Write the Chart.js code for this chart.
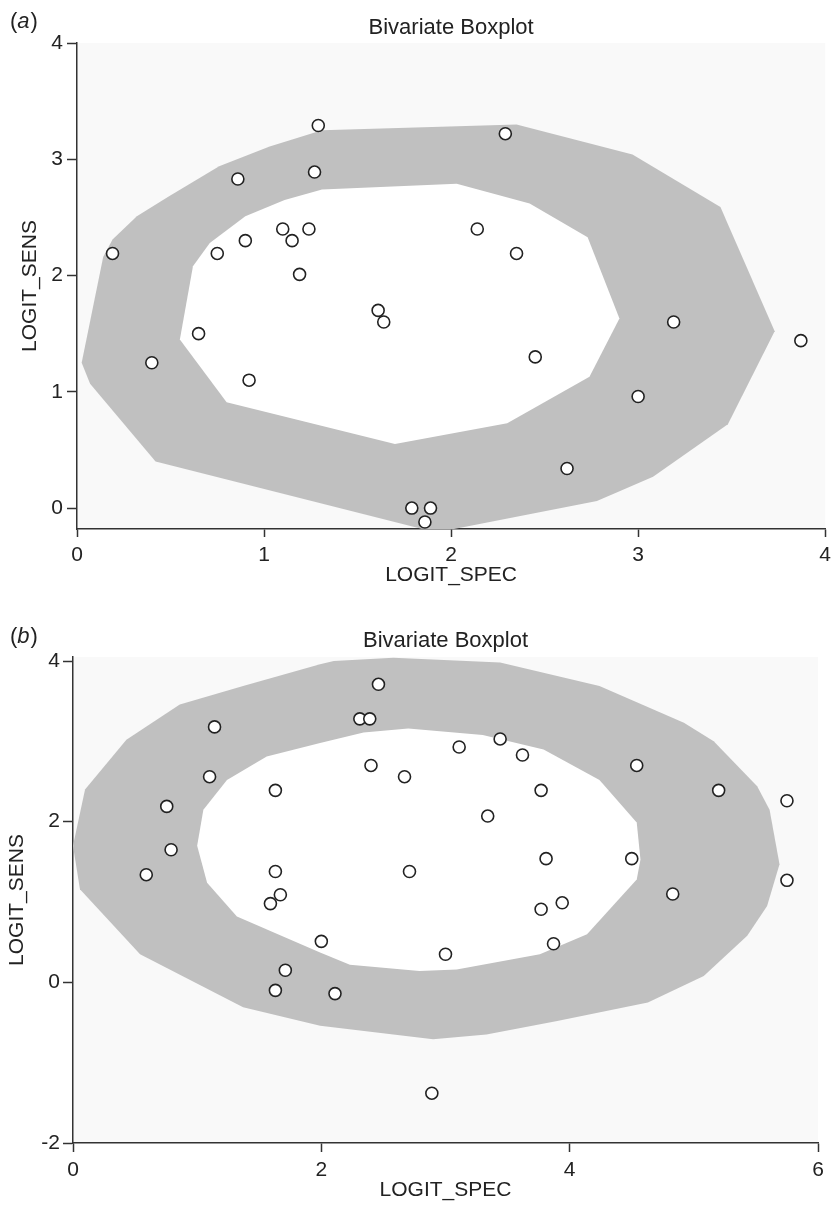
<!DOCTYPE html>
<html>
<head>
<meta charset="utf-8">
<title>Bivariate Boxplot</title>
<script src="https://cdn.jsdelivr.net/npm/chart.js@4"></script>
<style>
  html, body { margin: 0; padding: 0; background: #fff; }
  canvas { display: block; }
</style>
</head>
<body>
<canvas id="panelA" width="837" height="600"></canvas>
<canvas id="panelB" width="837" height="605"></canvas>
<script>
// Bivariate boxplots of LOGIT_SENS vs LOGIT_SPEC, two panels (a) and (b)

// ============================================================
// Panel (a) data
// ============================================================
const specA = [1.29, 0.86, 1.27, 0.19, 0.75, 0.90, 1.10, 1.15, 1.24, 1.19, 1.61, 1.64, 0.65,
  0.40, 0.92, 1.79, 2.29, 2.14, 2.35, 3.19, 3.87, 2.45, 3.00, 2.62, 1.89, 1.86];
const sensA = [3.29, 2.83, 2.89, 2.19, 2.19, 2.30, 2.40, 2.30, 2.40, 2.01, 1.70, 1.60, 1.50,
  1.25, 1.10, 0.00, 3.22, 2.40, 2.19, 1.60, 1.44, 1.30, 0.96, 0.34, 0.00, -0.12];

// outer fence (grey band) and inner hinge (white) polygons
const fenceSpecA = [0.025, 0.07, 0.42, 1.92, 2.78, 3.08, 3.48, 3.73, 3.44, 2.97, 2.35, 1.31, 1.03, 0.76,
  0.49, 0.32, 0.19, 0.14];
const fenceSensA = [1.25, 1.07, 0.40, -0.21, 0.06, 0.27, 0.72, 1.52, 2.59, 3.04, 3.30, 3.25, 3.11, 2.94,
  2.68, 2.51, 2.31, 2.16];
const hingeSpecA = [1.31, 1.11, 0.90, 0.71, 0.62, 0.55, 0.80, 1.70, 2.30, 2.74, 2.90, 2.73, 2.42, 2.03];
const hingeSensA = [2.74, 2.65, 2.51, 2.28, 2.08, 1.45, 0.91, 0.55, 0.73, 1.13, 1.63, 2.33, 2.62, 2.79];

const xTicksA = [0, 1, 2, 3, 4];
const yTicksA = [0, 1, 2, 3, 4];

// ============================================================
// Panel (b) data
// ============================================================
const specB = [2.46, 2.31, 2.39, 1.14, 1.10, 2.40, 2.67, 1.63, 0.755, 0.79, 0.59, 1.63, 2.71,
  1.67, 1.59, 2.00, 1.71, 1.63, 2.11, 3.11, 3.44, 3.62, 3.77, 3.34, 4.54, 5.20, 5.75, 3.81,
  4.50, 5.75, 4.83, 3.77, 3.94, 3.87, 3.00, 2.89];
const sensB = [3.71, 3.28, 3.28, 3.18, 2.56, 2.70, 2.56, 2.39, 2.19, 1.65, 1.34, 1.38, 1.38,
  1.09, 0.98, 0.51, 0.15, -0.10, -0.14, 2.93, 3.03, 2.83, 2.39, 2.07, 2.70, 2.39, 2.26, 1.54,
  1.54, 1.27, 1.10, 0.91, 0.99, 0.48, 0.35, -1.38];

const fenceSpecB = [0.00, 0.097, 0.43, 0.86, 1.37, 1.99, 2.10, 2.58, 3.44, 4.24, 4.92, 5.16, 5.51, 5.61,
  5.69, 5.59, 5.43, 5.08, 4.63, 3.90, 3.33, 2.90, 1.99, 1.37, 0.54, 0.30, 0.056];
const fenceSensB = [1.70, 2.40, 3.02, 3.46, 3.69, 3.96, 4.00, 4.04, 3.98, 3.69, 3.23, 3.00, 2.44, 2.15,
  1.47, 0.95, 0.58, 0.08, -0.25, -0.48, -0.65, -0.71, -0.54, -0.31, 0.35, 0.75, 1.16];
const hingeSpecB = [1.99, 2.34, 2.70, 3.30, 3.79, 4.24, 4.54, 4.57, 4.54, 4.14, 3.76, 3.09, 2.79, 2.23,
  1.99, 1.32, 1.08, 1.00, 1.05, 1.24, 1.56];
const hingeSensB = [2.98, 3.11, 3.16, 3.08, 2.90, 2.52, 1.99, 1.53, 1.28, 0.60, 0.35, 0.16, 0.14, 0.22,
  0.37, 0.82, 1.24, 1.70, 2.15, 2.52, 2.81];

const xTicksB = [0, 2, 4, 6];
const yTicksB = [-2, 0, 2, 4];

// ============================================================
// Shared styling
// ============================================================
const FONT_FAMILY = '"Liberation Sans", Arial, Helvetica, sans-serif';
const INK = '#222';
const AXIS = '#333';
const BAND = '#c0c0c0';

// light grey plot background behind the hull
const plotBackground = {
  id: 'plotBackground',
  beforeDraw(chart) {
    const { ctx, chartArea: a } = chart;
    ctx.save();
    ctx.fillStyle = '#f9f9f9';
    ctx.fillRect(a.left, a.top, a.right - a.left, a.bottom - a.top);
    ctx.restore();
  }
};

// "(a)" / "(b)" tag with italic letter
const panelTag = {
  id: 'panelTag',
  afterDraw(chart, args, opts) {
    const { ctx } = chart;
    ctx.save();
    ctx.fillStyle = INK;
    ctx.textBaseline = 'middle';
    let x = opts.x;
    ctx.font = `22px ${FONT_FAMILY}`;
    ctx.fillText('(', x, opts.y);
    x += ctx.measureText('(').width;
    ctx.font = `italic 22px ${FONT_FAMILY}`;
    ctx.fillText(opts.letter, x, opts.y);
    x += ctx.measureText(opts.letter).width + 1;
    ctx.font = `22px ${FONT_FAMILY}`;
    ctx.fillText(')', x, opts.y);
    ctx.restore();
  }
};

function toXY(xs, ys) {
  return xs.map((x, i) => ({ x, y: ys[i] }));
}

function buildPanel(canvasId, p) {
  const font = { family: FONT_FAMILY, size: 21 };
  return new Chart(document.getElementById(canvasId), {
    type: 'scatter',
    data: {
      datasets: [
        {
          label: 'Studies',
          data: toXY(p.spec, p.sens),
          order: 0,
          pointRadius: 6,
          pointHoverRadius: 6,
          pointBorderWidth: 1.6,
          borderColor: INK,
          backgroundColor: '#fff'
        },
        {
          label: 'Hinge',
          type: 'line',
          data: toXY(p.hingeX, p.hingeY),
          order: 1,
          fill: 'shape',
          backgroundColor: '#fff',
          borderColor: '#fff',
          borderWidth: 0,
          pointRadius: 0,
          tension: 0
        },
        {
          label: 'Fence',
          type: 'line',
          data: toXY(p.fenceX, p.fenceY),
          order: 2,
          fill: 'shape',
          backgroundColor: BAND,
          borderColor: BAND,
          borderWidth: 0,
          pointRadius: 0,
          tension: 0
        }
      ]
    },
    options: {
      responsive: false,
      animation: false,
      layout: { padding: { top: 0, right: p.padRight, bottom: 0, left: 0 } },
      plugins: {
        legend: { display: false },
        tooltip: { enabled: false },
        title: {
          display: true,
          text: 'Bivariate Boxplot',
          fullSize: false,
          color: INK,
          font: { family: FONT_FAMILY, size: 22, weight: 'normal' },
          padding: { top: p.titleTop, bottom: p.titleBottom }
        },
        panelTag: { letter: p.letter, x: 10, y: p.tagY }
      },
      scales: {
        x: {
          type: 'linear',
          min: p.xMin,
          max: p.xMax,
          afterBuildTicks: (s) => { s.ticks = p.xTicks.map((v) => ({ value: v })); },
          afterFit: (s) => { s.height = p.xAxisHeight; },
          border: { display: true, color: AXIS, width: 1.5 },
          grid: { drawOnChartArea: false, tickLength: p.xTickLen, tickWidth: 1.5, tickColor: AXIS },
          ticks: { color: INK, font, padding: 6, maxRotation: 0 },
          title: { display: true, text: 'LOGIT_SPEC', color: INK, font, padding: { top: 0, bottom: p.xTitlePad } }
        },
        y: {
          type: 'linear',
          min: p.yMin,
          max: p.yMax,
          afterBuildTicks: (s) => { s.ticks = p.yTicks.map((v) => ({ value: v })); },
          afterFit: (s) => { s.width = p.yAxisWidth; },
          border: { display: true, color: AXIS, width: 1.5 },
          grid: { drawOnChartArea: false, tickLength: 10, tickWidth: 1.5, tickColor: AXIS },
          ticks: { color: INK, font, padding: p.yTickPad },
          title: { display: true, text: 'LOGIT_SENS', color: INK, font, padding: { top: p.yTitlePad, bottom: 0 } }
        }
      }
    },
    plugins: [plotBackground, panelTag]
  });
}

// ============================================================
// Render both panels
// ============================================================
buildPanel('panelA', {
  letter: 'a', tagY: 22,
  spec: specA, sens: sensA,
  fenceX: fenceSpecA, fenceY: fenceSensA,
  hingeX: hingeSpecA, hingeY: hingeSensA,
  xMin: 0, xMax: 4, yMin: -0.18, yMax: 4,
  xTicks: xTicksA, yTicks: yTicksA,
  padRight: 7, titleTop: 15, titleBottom: 1.6,
  xAxisHeight: 71, yAxisWidth: 77,
  xTickLen: 8, yTickPad: 4,
  xTitlePad: 12, yTitlePad: 18
});

buildPanel('panelB', {
  letter: 'b', tagY: 37,
  spec: specB, sens: sensB,
  fenceX: fenceSpecB, fenceY: fenceSensB,
  hingeX: hingeSpecB, hingeY: hingeSensB,
  xMin: 0, xMax: 6, yMin: -2, yMax: 4.05,
  xTicks: xTicksB, yTicks: yTicksB,
  padRight: 19, titleTop: 28, titleBottom: 2.6,
  xAxisHeight: 62, yAxisWidth: 73,
  xTickLen: 9, yTickPad: 3,
  xTitlePad: 2.4, yTitlePad: 5
});
</script>
</body>
</html>
